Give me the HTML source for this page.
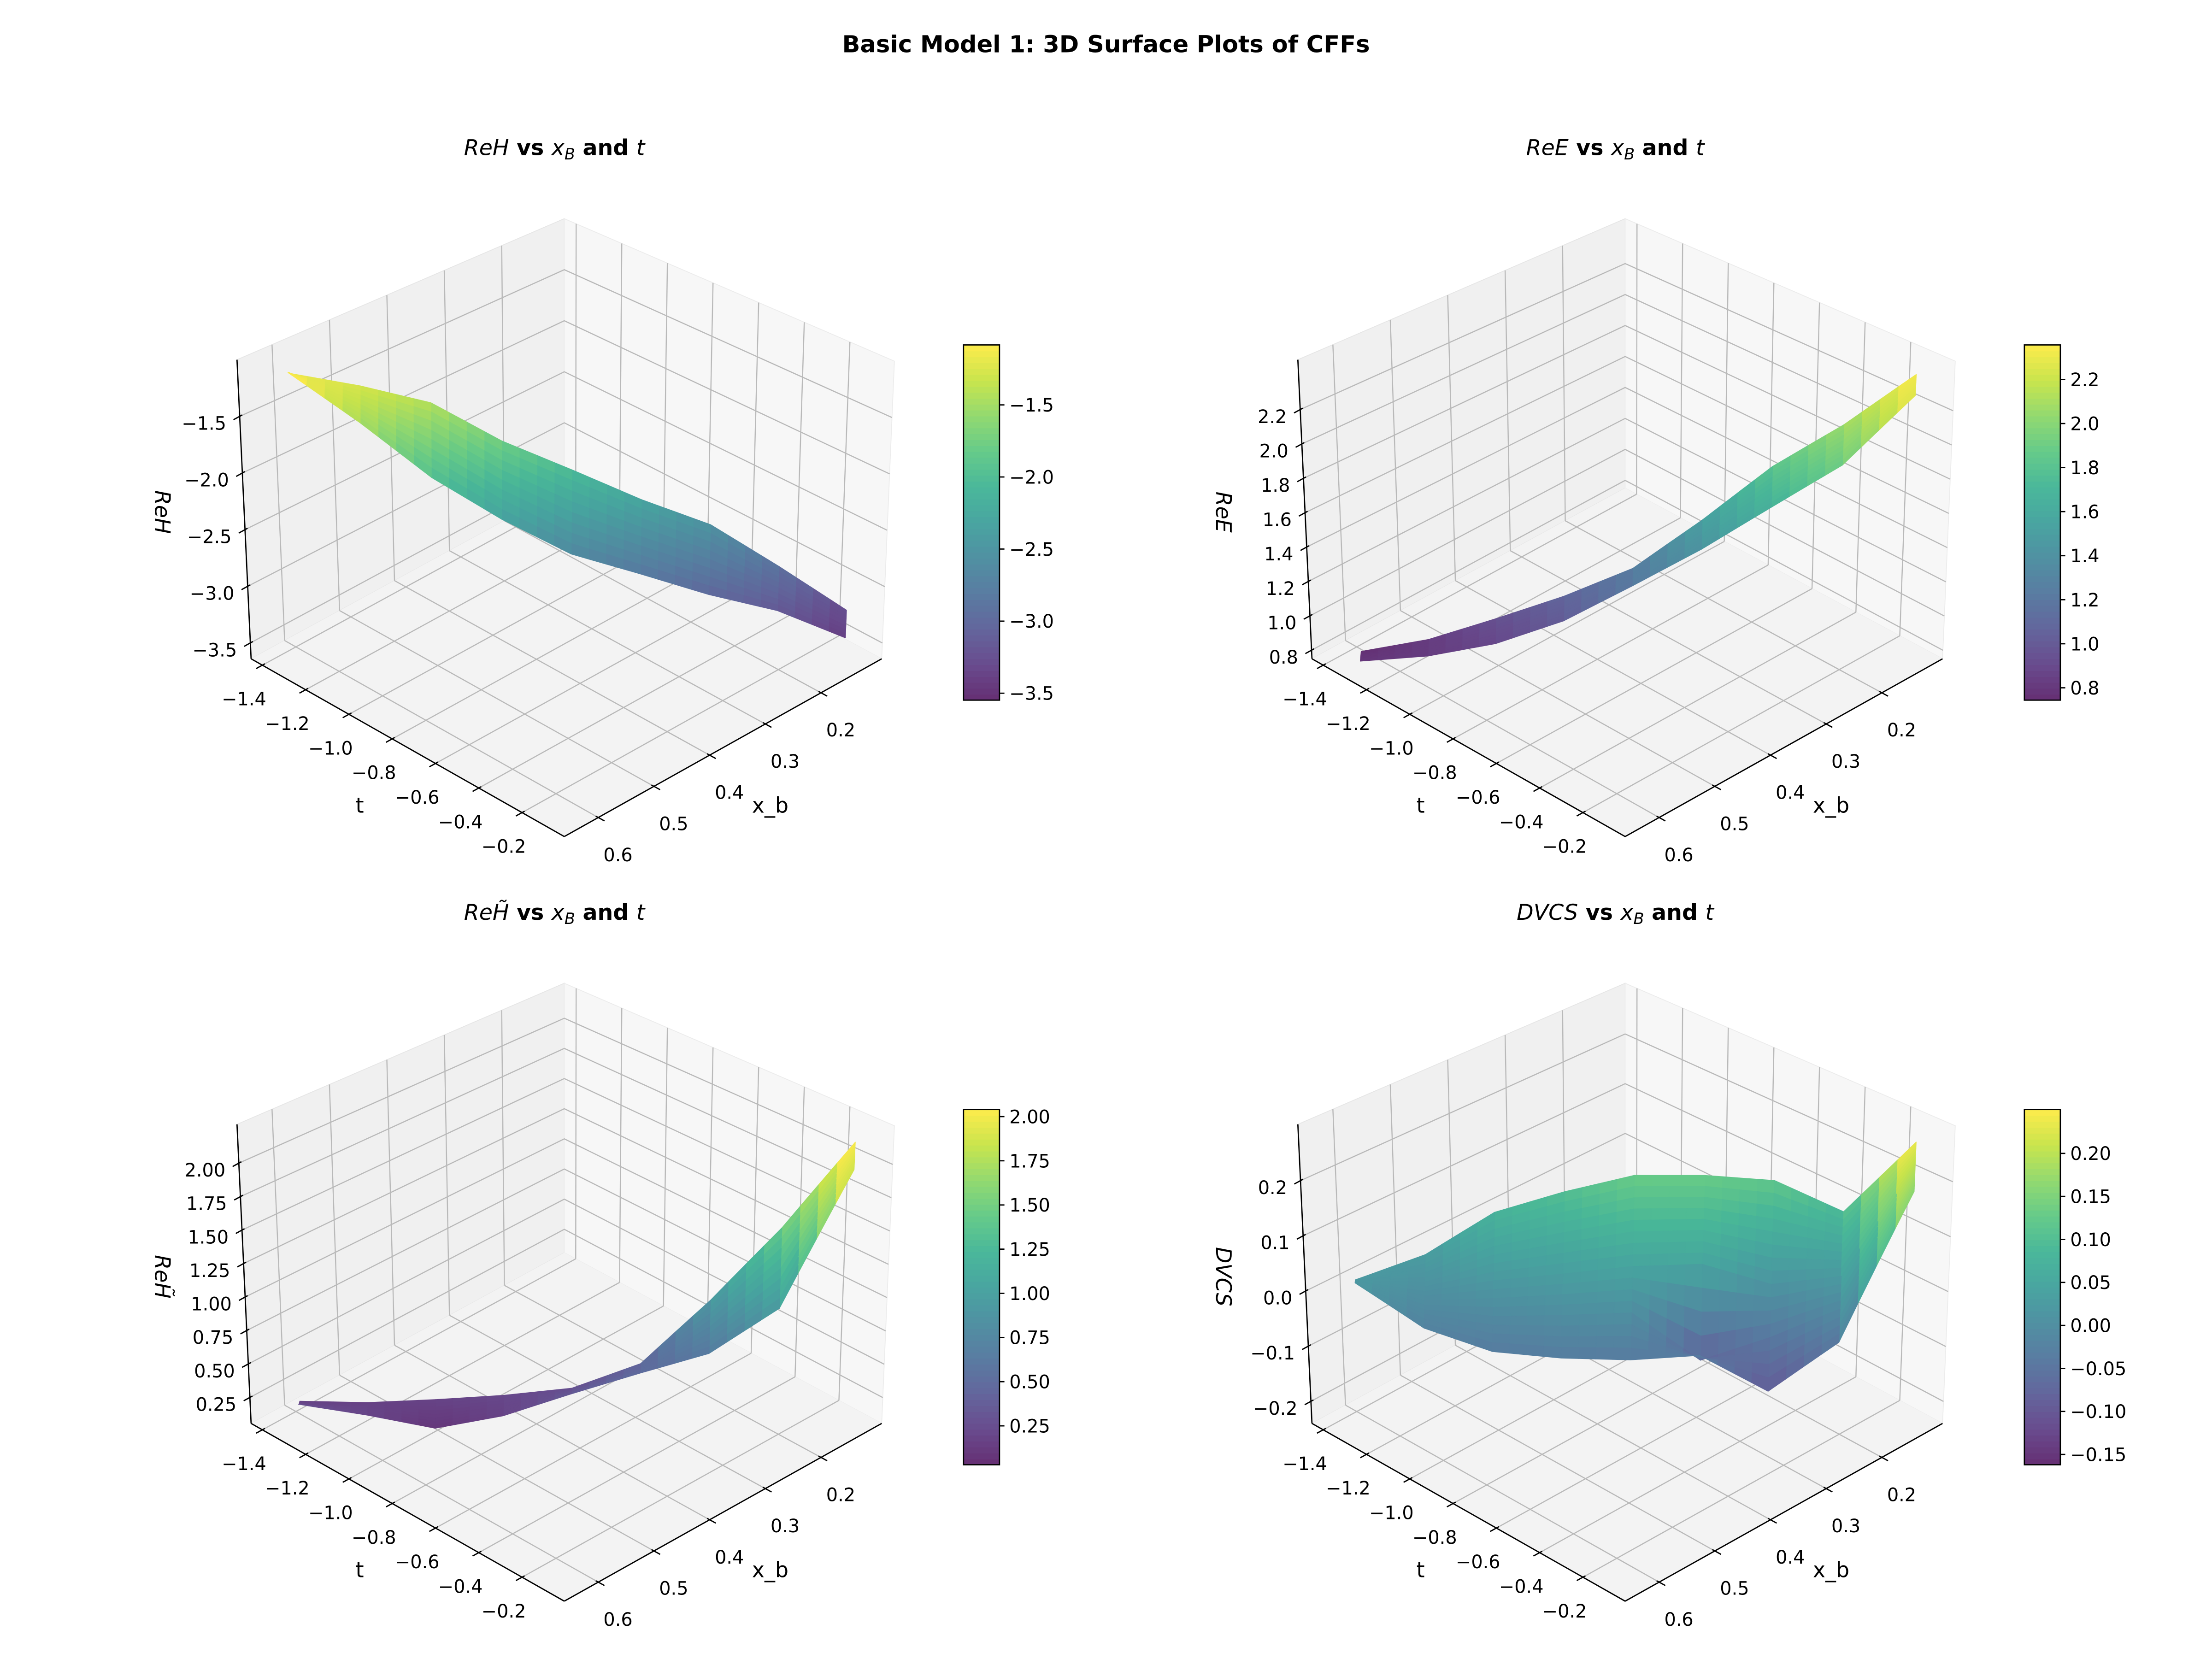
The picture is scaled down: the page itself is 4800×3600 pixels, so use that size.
<!DOCTYPE html>
<html><head><meta charset="utf-8"><title>Basic Model 1: 3D Surface Plots of CFFs</title>
<style>html,body{margin:0;padding:0;background:#fff}svg{display:block}text{font-family:"DejaVu Sans","Liberation Sans",sans-serif}</style>
</head><body>
<svg id="fig" xmlns="http://www.w3.org/2000/svg" viewBox="0 0 1568 1176" width="4800" height="3600">
<rect x="0" y="0" width="1568" height="1176" fill="#fff"/>
<text x="784" y="37" text-anchor="middle" font-size="16.7" font-weight="bold">Basic Model 1: 3D Surface Plots of CFFs</text>
</svg>
<script>
// ---- data ----
const xbPath = [0.62, 0.5575, 0.495, 0.4325, 0.37, 0.3075, 0.245, 0.1825, 0.12];
const tPath = [-1.33, -1.176, -1.023, -0.869, -0.715, -0.561, -0.408, -0.254, -0.1];
const narrowBand = [1, 1, 1, 1, 1, 1, 1, 1, 1];
const dvcsBand = [0.2, 3, 5, 6, 6, 6, 6, 4, 1];
const reHRows = [
  [-1.16, -1.27, -1.42, -1.76, -2.02, -2.29, -2.52, -2.90, -3.30],
  [-1.09, -1.37, -1.68, -2.04, -2.33, -2.55, -2.76, -3.02, -3.33],
  [-1.03, -1.47, -1.95, -2.32, -2.63, -2.81, -3.00, -3.15, -3.40]
];
const reERows = [
  [0.76, 0.83, 0.95, 1.08, 1.24, 1.52, 1.83, 2.07, 2.36],
  [0.78, 0.83, 0.92, 1.05, 1.24, 1.48, 1.75, 1.99, 2.34],
  [0.80, 0.83, 0.90, 1.03, 1.23, 1.44, 1.68, 1.92, 2.32]
];
const reHtRows = [
  [0.18, 0.17, 0.19, 0.22, 0.27, 0.45, 0.92, 1.46, 2.10],
  [0.22, 0.19, 0.14, 0.20, 0.31, 0.47, 0.78, 1.21, 2.05],
  [0.28, 0.20, 0.10, 0.19, 0.35, 0.50, 0.64, 0.97, 2.00]
];
const dvcsRows = [
  [0.022, 0.029, 0.079, 0.103, 0.133, 0.132, 0.121, 0.089, 0.256],
  [0.022, 0.017, 0.051, 0.069, 0.091, 0.092, 0.067, 0.057, 0.240],
  [0.022, 0.004, 0.023, 0.035, 0.048, 0.051, 0.013, 0.026, 0.224],
  [0.022, -0.008, -0.006, 0.002, 0.006, -0.080, -0.041, -0.005, 0.208],
  [0.022, -0.020, -0.034, -0.032, -0.036, -0.029, -0.094, -0.037, 0.192]
];
const xTicks = [0.2, 0.3, 0.4, 0.5, 0.6];
const tTicks = [-1.4, -1.2, -1.0, -0.8, -0.6, -0.4, -0.2];
const reHZTicks = [-3.5, -3.0, -2.5, -2.0, -1.5];
const reEZTicks = [0.8, 1.0, 1.2, 1.4, 1.6, 1.8, 2.0, 2.2];
const reHtZTicks = [0.25, 0.5, 0.75, 1.0, 1.25, 1.5, 1.75, 2.0];
const dvcsZTicks = [-0.2, -0.1, 0.0, 0.1, 0.2];
const reHCbTicks = [-3.5, -3.0, -2.5, -2.0, -1.5];
const reECbTicks = [0.8, 1.0, 1.2, 1.4, 1.6, 1.8, 2.0, 2.2];
const reHtCbTicks = [0.25, 0.5, 0.75, 1.0, 1.25, 1.5, 1.75, 2.0];
const dvcsCbTicks = [-0.15, -0.10, -0.05, 0.00, 0.05, 0.10, 0.15, 0.20];
const xLim = [0.091, 0.661];
const tLim = [-1.452, -0.005];
const reHZLim = [-3.64, -1.0], reHCLim = [-3.548, -1.084];
const reEZLim = [0.75, 2.49], reECLim = [0.744, 2.357];
const reHtZLim = [0.056, 2.29], reHtCLim = [0.03, 2.04];
const dvcsZLim = [-0.24, 0.302], dvcsCLim = [-0.162, 0.251];
const bandDx = 0.014, bandDt = 0.034;

// ---- geometry ----
const NS = 'http://www.w3.org/2000/svg';
const svg = document.getElementById('fig');
const K = [400, 346], L = [178, 467], R = [625, 467], F = [400, 593];
const Kt = [400, 155], Lt = [168, 255], Rt = [634, 256], Ft = [400, 361];
function bil(k, l, r, f, a, b) {
  return [k[0]*(1-a)*(1-b) + l[0]*a*(1-b) + r[0]*(1-a)*b + f[0]*a*b,
          k[1]*(1-a)*(1-b) + l[1]*a*(1-b) + r[1]*(1-a)*b + f[1]*a*b];
}
function P(off, a, b, c) {
  const fl = bil(K, L, R, F, a, b), tp = bil(Kt, Lt, Rt, Ft, a, b);
  return [off[0] + fl[0] + (tp[0]-fl[0])*c, off[1] + fl[1] + (tp[1]-fl[1])*c];
}
const ax = x => (x - xLim[0]) / (xLim[1] - xLim[0]);
const bt = t => (t - tLim[0]) / (tLim[1] - tLim[0]);
const VIR = ['#440154','#482475','#414487','#355f8d','#2a788e','#21918c','#22a884','#44bf70','#7ad151','#bddf26','#fde725'];
function hex(h){return [parseInt(h.substr(1,2),16),parseInt(h.substr(3,2),16),parseInt(h.substr(5,2),16)];}
const VRGB = VIR.map(hex);
function viridis(f, alpha, bg) {
  f = Math.max(0, Math.min(1, f));
  const s = f * 10, i = Math.min(9, Math.floor(s)), r = s - i;
  const c = [0,1,2].map(k => VRGB[i][k] + (VRGB[i+1][k] - VRGB[i][k]) * r);
  return 'rgb(' + c.map(v => Math.round(v*alpha + bg*(1-alpha))).join(',') + ')';
}
function mk(tag, attrs, parent) {
  const e = document.createElementNS(NS, tag);
  for (const k in attrs) e.setAttribute(k, attrs[k]);
  (parent || svg).appendChild(e);
  return e;
}
const pts = arr => arr.map(p => p[0].toFixed(2) + ',' + p[1].toFixed(2)).join(' ');
function fmt(v, d) { const s = Math.abs(v).toFixed(d); return (v < 0 ? '\u2212' : '') + s; }

const panels = [
  {off:[0,0], rows:reHRows, band:narrowBand, zLim:reHZLim, cLim:reHCLim, zTicks:reHZTicks, zDec:1, cbTicks:reHCbTicks, cbDec:1, name:'reh', label:'ReH'},
  {off:[752,0], rows:reERows, band:narrowBand, zLim:reEZLim, cLim:reECLim, zTicks:reEZTicks, zDec:1, cbTicks:reECbTicks, cbDec:1, name:'ree', label:'ReE'},
  {off:[0,542], rows:reHtRows, band:narrowBand, zLim:reHtZLim, cLim:reHtCLim, zTicks:reHtZTicks, zDec:2, cbTicks:reHtCbTicks, cbDec:2, name:'reh-tilde', label:'ReH\u0303'},
  {off:[752,542], rows:dvcsRows, band:dvcsBand, zLim:dvcsZLim, cLim:dvcsCLim, zTicks:dvcsZTicks, zDec:1, cbTicks:dvcsCbTicks, cbDec:2, name:'dvcs', label:'DVCS'}
];

panels.forEach(p => {
  const o = p.off;
  const g = mk('g', {});
  
  
  const cz = z => (z - p.zLim[0]) / (p.zLim[1] - p.zLim[0]);

  // title
  const ti = mk('text', {x: o[0]+393, y: o[1]+110, 'text-anchor':'middle', 'font-size':15.5}, g);
  
  
  ti.innerHTML = '<tspan font-style="italic">' + p.label + '</tspan><tspan font-weight="bold"> vs </tspan><tspan font-style="italic">x</tspan><tspan font-style="italic" font-size="11" dy="3">B</tspan><tspan font-weight="bold" dy="-3"> and </tspan><tspan font-style="italic">t</tspan>';

  // panes
  const leftPane = mk('polygon', {points: pts([P(o,0,0,0),P(o,1,0,0),P(o,1,0,1),P(o,0,0,1)]), fill:'#f0f0f0', stroke:'#e6e6e6', 'stroke-width':0.6}, g);
  
  
  const rightPane = mk('polygon', {points: pts([P(o,0,0,0),P(o,0,1,0),P(o,0,1,1),P(o,0,0,1)]), fill:'#f7f7f7', stroke:'#ececec', 'stroke-width':0.6}, g);
  
  
  const floor = mk('polygon', {points: pts([P(o,0,0,0),P(o,1,0,0),P(o,1,1,0),P(o,0,1,0)]), fill:'#f3f3f3'}, g);
  
  

  // grid
  const gg = mk('g', {stroke:'#b9b9b9', 'stroke-width':0.8, fill:'none'}, g);
  
  
  xTicks.forEach(x => {
    const a = ax(x);
    mk('polyline', {points: pts([P(o,a,0,0),P(o,a,0,1)])}, gg);
    mk('polyline', {points: pts([P(o,a,0,0),P(o,a,1,0)])}, gg);
  });
  tTicks.forEach(t => {
    const b = bt(t);
    mk('polyline', {points: pts([P(o,0,b,0),P(o,0,b,1)])}, gg);
    mk('polyline', {points: pts([P(o,0,b,0),P(o,1,b,0)])}, gg);
  });
  p.zTicks.forEach(z => {
    const c = cz(z);
    mk('polyline', {points: pts([P(o,1,0,c),P(o,0,0,c),P(o,0,1,c)])}, gg);
  });

  // surface
  const sg = mk('g', {}, g);
  
  
  const nR = p.rows.length, nU = xbPath.length;
  const vOf = j => -1 + 2*j/(nR-1);
  function node(i, j) {
    const v = vOf(j) * p.band[i];
    return {a: ax(xbPath[i] + v*bandDx), b: bt(tPath[i] + v*bandDt), z: p.rows[j][i]};
  }
  const quads = [];
  const S = 4;
  for (let j = 0; j < nR-1; j++) for (let i = 0; i < nU-1; i++) {
    const n00 = node(i,j), n10 = node(i+1,j), n01 = node(i,j+1), n11 = node(i+1,j+1);
    const lerp = (s, r, key) => n00[key]*(1-s)*(1-r) + n10[key]*s*(1-r) + n01[key]*(1-s)*r + n11[key]*s*r;
    const q = (s, r) => ({a: lerp(s,r,'a'), b: lerp(s,r,'b'), z: lerp(s,r,'z')});
    for (let si = 0; si < S; si++) for (let ri = 0; ri < S; ri++) {
      const c = [q(si/S, ri/S), q((si+1)/S, ri/S), q((si+1)/S, (ri+1)/S), q(si/S, (ri+1)/S)];
      const zm = (c[0].z + c[1].z + c[2].z + c[3].z) / 4;
      const depth = c.reduce((acc, n) => acc + n.a + n.b, 0) / 4;
      quads.push({c, zm, depth});
    }
  }
  quads.sort((u, w) => u.depth - w.depth);
  quads.forEach(qd => {
    const col = viridis((qd.zm - p.cLim[0]) / (p.cLim[1] - p.cLim[0]), 0.82, 244);
    mk('polygon', {points: pts(qd.c.map(n => P(o, n.a, n.b, cz(n.z)))), fill: col, stroke: col, 'stroke-width': 0.5, 'stroke-linejoin':'round'}, sg);
  });

  // axes lines
  const al = mk('g', {stroke:'#000', 'stroke-width':0.9, fill:'none'}, g);
  
  
  mk('polyline', {points: pts([P(o,1,0,0),P(o,1,1,0)])}, al);
  mk('polyline', {points: pts([P(o,1,1,0),P(o,0,1,0)])}, al);
  mk('polyline', {points: pts([P(o,1,0,0),P(o,1,0,1)])}, al);

  const tg = mk('g', {'font-size':13, fill:'#000'}, g);
  
  
  tTicks.forEach(t => {
    const q = P(o, 1, bt(t), 0);
    mk('line', {x1:q[0]+1.8, y1:q[1]-1, x2:q[0]-4.4, y2:q[1]+2.4, stroke:'#000', 'stroke-width':0.9}, al);
    const tx = mk('text', {x:q[0]-13, y:q[1]+28.5, 'text-anchor':'middle'}, tg);
    tx.textContent = fmt(t, 1);
  });
  xTicks.forEach(x => {
    const q = P(o, ax(x), 1, 0);
    mk('line', {x1:q[0]-1.8, y1:q[1]-1, x2:q[0]+4.4, y2:q[1]+2.4, stroke:'#000', 'stroke-width':0.9}, al);
    const tx = mk('text', {x:q[0]+14, y:q[1]+31, 'text-anchor':'middle'}, tg);
    tx.textContent = fmt(x, 1);
  });
  p.zTicks.forEach(z => {
    const q = P(o, 1, 0, cz(z));
    mk('line', {x1:q[0]+1.8, y1:q[1]-1, x2:q[0]-4.4, y2:q[1]+2.4, stroke:'#000', 'stroke-width':0.9}, al);
    const tx = mk('text', {x:q[0]-9.5, y:q[1]+9.5, 'text-anchor':'end'}, tg);
    tx.textContent = fmt(z, p.zDec);
  });

  // axis labels
  const tl = mk('text', {x:o[0]+255, y:o[1]+576, 'text-anchor':'middle', 'font-size':15}, g);
  
  
  tl.textContent = 't';
  const xl = mk('text', {x:o[0]+546, y:o[1]+576, 'text-anchor':'middle', 'font-size':15}, g);
  
  
  xl.textContent = 'x_b';
  const zl = mk('text', {x:0, y:0, 'text-anchor':'middle', 'font-size':15, 'font-style':'italic', transform:'translate(' + (o[0]+110) + ',' + (o[1]+363) + ') rotate(90)'}, g);
  
  
  zl.textContent = p.label;

  // colorbar
  const cb = mk('g', {}, g);
  
  
  const cx0 = o[0]+683, cx1 = o[0]+708.5, cy0 = o[1]+244.5, cy1 = o[1]+496.3;
  const N = 60;
  for (let k = 0; k < N; k++) {
    const y0 = cy1 - (cy1-cy0)*k/N, y1 = cy1 - (cy1-cy0)*(k+1)/N;
    mk('rect', {x:cx0, y:y1-0.3, width:cx1-cx0, height:(y0-y1)+0.6, fill: viridis((k+0.5)/N, 0.82, 255)}, cb);
  }
  mk('rect', {x:cx0, y:cy0, width:cx1-cx0, height:cy1-cy0, fill:'none', stroke:'#000', 'stroke-width':0.9}, cb);
  p.cbTicks.forEach(v => {
    const y = cy1 - (v - p.cLim[0]) / (p.cLim[1] - p.cLim[0]) * (cy1 - cy0);
    mk('line', {x1:cx1, y1:y, x2:cx1+3.5, y2:y, stroke:'#000', 'stroke-width':0.9}, cb);
    const tx = mk('text', {x:cx1+7, y:y+4.7, 'font-size':13}, cb);
    tx.textContent = fmt(v, p.cbDec);
  });
});
</script>
</body></html>
